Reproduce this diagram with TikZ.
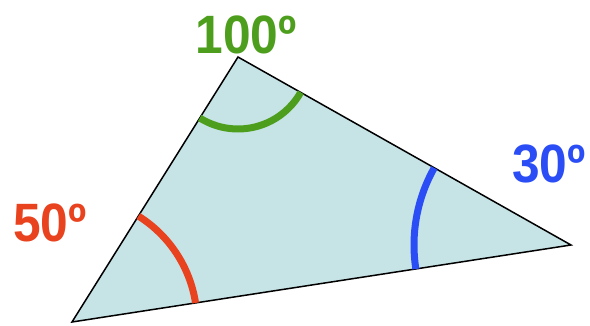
\documentclass[tikz,border=0pt]{standalone}
\usepackage{fontspec}
\setmainfont{Liberation Sans}
\definecolor{trifill}{HTML}{C6E3E6}
\definecolor{agreen}{HTML}{4E9E1E}
\definecolor{ared}{HTML}{E9421E}
\definecolor{ablue}{HTML}{2A4DF6}
\begin{document}
\begin{tikzpicture}[x=1pt,y=1pt,
  tri/.style={draw=black,line width=1.5pt,fill=trifill,line join=miter},
  anglearc/.style={line width=7pt},
  lbl/.style={inner sep=0pt,xscale=0.92,font=\fontsize{54}{54}\selectfont\bfseries}]
\useasboundingbox (0,0) rectangle (590,325);
\coordinate (A) at (238,268);
\coordinate (B) at (72,3);
\coordinate (C) at (571,80);
\draw[tri] (A) -- (B) -- (C) -- cycle;
\draw[anglearc,ared] (B) ++(8.77:125) arc[start angle=8.77,end angle=57.9,radius=125];
\draw[anglearc,agreen] (A) ++(237.9:72) arc[start angle=237.9,end angle=330.6,radius=72];
\draw[anglearc,ablue] (C) ++(150.6:157) arc[start angle=150.6,end angle=188.8,radius=157];
\node[lbl,text=agreen] (la) at (246,290) {100º};
\node[lbl,text=ared] (lb) at (50,102) {50º};
\node[lbl,text=ablue] (lc) at (549,161) {30º};
\end{tikzpicture}
\end{document}
